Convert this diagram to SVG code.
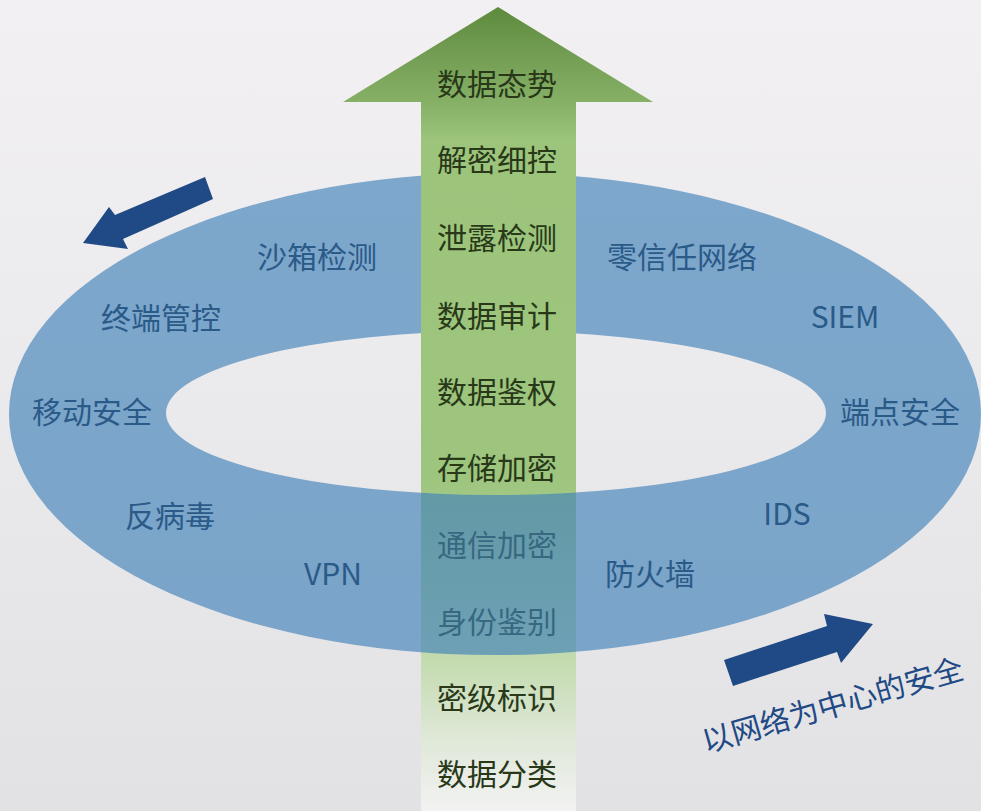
<svg xmlns="http://www.w3.org/2000/svg" width="981" height="811" viewBox="0 0 981 811">
  <defs>
    <linearGradient id="bg" x1="0" y1="0" x2="0" y2="1">
      <stop offset="0" stop-color="#f2f0f2"/>
      <stop offset="0.45" stop-color="#ebeaec"/>
      <stop offset="1" stop-color="#e2e2e4"/>
    </linearGradient>
    <linearGradient id="green" gradientUnits="userSpaceOnUse" x1="0" y1="7" x2="0" y2="811">
      <stop offset="0" stop-color="#5e8a3e"/>
      <stop offset="0.118" stop-color="#86b066"/>
      <stop offset="0.165" stop-color="#9cc47b"/>
      <stop offset="0.58" stop-color="#9dc57d"/>
      <stop offset="0.812" stop-color="#c3dbaf"/>
      <stop offset="0.91" stop-color="#dfe8d8"/>
      <stop offset="1" stop-color="#f2f2f2"/>
    </linearGradient>
    <path id="ringShape" fill-rule="evenodd" d="M 9,414 a486,241 0 1,0 972,0 a486,241 0 1,0 -972,0 Z M 166,413 a330,82 0 1,0 660,0 a330,82 0 1,0 -660,0 Z"/>
    <clipPath id="frontClip">
      <rect x="421" y="450" width="155" height="250"/>
    </clipPath>
    <style>
      .ring { fill: #4181b9; fill-opacity: 0.65; }
      .rl { font-family: "Noto Sans CJK SC", "Noto Sans", sans-serif; font-size: 30px; fill: #2a5a88; text-anchor: middle; dominant-baseline: central; }
      .al { font-family: "Noto Sans CJK SC", "Noto Sans", sans-serif; font-size: 30px; fill: #283819; text-anchor: middle; dominant-baseline: central; }
      .blue { fill: #1f4a85; }
      .cap { font-family: "Noto Sans CJK SC", "Noto Sans", sans-serif; font-size: 30px; fill: #1f4a85; text-anchor: middle; dominant-baseline: central; }
    </style>
  </defs>

  <rect x="0" y="0" width="981" height="811" fill="url(#bg)"/>

  <g id="ring-back">
    <use href="#ringShape" class="ring"/>
  </g>

  <g id="ring-labels">
    <g id="n-sandbox"><text class="rl" x="317" y="255">沙箱检测</text></g>
    <g id="n-zerotrust"><text class="rl" x="682" y="255">零信任网络</text></g>
    <g id="n-terminal"><text class="rl" x="161" y="316">终端管控</text></g>
    <g id="n-siem"><text class="rl" x="845" y="315">SIEM</text></g>
    <g id="n-mobile"><text class="rl" x="92" y="410">移动安全</text></g>
    <g id="n-endpoint"><text class="rl" x="900" y="410">端点安全</text></g>
    <g id="n-antivirus"><text class="rl" x="170" y="514">反病毒</text></g>
    <g id="n-ids"><text class="rl" x="787" y="512">IDS</text></g>
    <g id="n-vpn"><text class="rl" x="333" y="572">VPN</text></g>
    <g id="n-firewall"><text class="rl" x="650" y="572">防火墙</text></g>
  </g>

  <g id="data-arrow">
    <polygon points="498,7 653,102 576,102 576,811 421,811 421,102 343,102" fill="url(#green)"/>
    <g id="a-situation"><text class="al" x="497" y="82">数据态势</text></g>
    <g id="a-decrypt"><text class="al" x="497" y="158">解密细控</text></g>
    <g id="a-leak"><text class="al" x="497" y="236">泄露检测</text></g>
    <g id="a-audit"><text class="al" x="497" y="314">数据审计</text></g>
    <g id="a-authz"><text class="al" x="497" y="390">数据鉴权</text></g>
    <g id="a-storage"><text class="al" x="497" y="466">存储加密</text></g>
    <g id="a-comm"><text class="al" x="497" y="543">通信加密</text></g>
    <g id="a-identity"><text class="al" x="497" y="620">身份鉴别</text></g>
    <g id="a-level"><text class="al" x="497" y="696">密级标识</text></g>
    <g id="a-classify"><text class="al" x="497" y="772">数据分类</text></g>
  </g>

  <g id="ring-front" clip-path="url(#frontClip)">
    <use href="#ringShape" class="ring"/>
  </g>

  <g id="connectors">
    <polygon class="blue" points="205,177 213,199 123,239 128,249 83,243 109,207 115,215"/>
    <polygon class="blue" points="724,660 827,626 824,614 873,624 841,663 837,652 733,686"/>
  </g>

  <g id="caption">
    <text class="cap" transform="translate(832,703) rotate(-16)" x="0" y="0">以网络为中心的安全</text>
  </g>
</svg>
